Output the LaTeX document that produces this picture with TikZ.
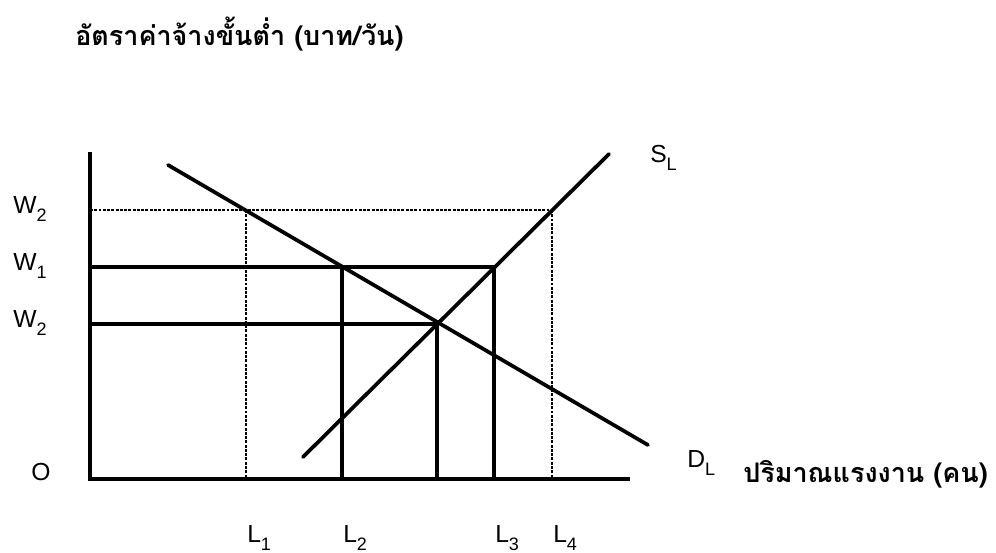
\documentclass[tikz,border=0pt]{standalone}
\usepackage{fontspec}
\setmainfont{Liberation Sans}
\newfontfamily\thaifont[Script=Thai]{Loma}
\newcommand\subs[1]{\raisebox{-6.5pt}{\fontsize{13.5}{13.5}\selectfont #1}}
\begin{document}
\begin{tikzpicture}[x=0.75pt,y=-0.75pt,
  axisline/.style={line width=2.4pt},
  curveline/.style={line width=2.8pt, line cap=round},
  guide/.style={line width=2.4pt},
  dotguide/.style={line width=2.2pt, densely dotted},
  lab/.style={font=\fontsize{18.5}{18.5}\selectfont, inner sep=0pt, anchor=base west},
  thailab/.style={font=\thaifont\bfseries\fontsize{20.2}{20.2}\selectfont, inner sep=0pt, anchor=base west}]
\useasboundingbox (0,0) rectangle (996,553);
% axes
\coordinate (O) at (90,479);
\coordinate (ytop) at (90,152);
\coordinate (xend) at (630,479);
% curves
\coordinate (dA) at (168,165);
\coordinate (dB) at (648,445);
\coordinate (sA) at (303,457);
\coordinate (sB) at (609,154);
% points
\coordinate (e1) at (246,210);
\coordinate (e2) at (342,267);
\coordinate (e3) at (437,324);
\coordinate (e4) at (494,267);
\coordinate (e5) at (552,210);
\coordinate (w2t) at (90,210);
\coordinate (w1) at (90,267);
\coordinate (w2b) at (90,324);
\coordinate (l1) at (246,479);
\coordinate (l2) at (342,479);
\coordinate (le) at (437,479);
\coordinate (l3) at (494,479);
\coordinate (l4) at (552,479);
% guides
\draw[dotguide] (w2t) -- (e5);
\draw[dotguide] (e1) -- (l1);
\draw[dotguide] (e5) -- (l4);
\draw[guide] (w1) -- (e4);
\draw[guide] (w2b) -- (e3);
\draw[guide] (e2) -- (l2);
\draw[guide] (e3) -- (le);
\draw[guide] (e4) -- (l3);
% axes
\draw[axisline] (ytop) -- (O) -- (xend);
% curves
\draw[curveline] (dA) -- (dB);
\draw[curveline] (sA) -- (sB);
% labels
\node[thailab] (ytitle) at (75,45) {อัตราค่าจ้างขั้นต่ำ (บาท/วัน)};
\node[thailab] (xtitle) at (743,482) {ปริมาณแรงงาน (คน)};
\node[lab] (lw2t) at (13,213) {W\subs{2}};
\node[lab] (lw1) at (13,270) {W\subs{1}};
\node[lab] (lw2b) at (13,327) {W\subs{2}};
\node[lab] (lO) at (31,480) {O};
\node[lab] (lL1) at (247,542) {L\subs{1}};
\node[lab] (lL2) at (343,542) {L\subs{2}};
\node[lab] (lL3) at (495,542) {L\subs{3}};
\node[lab] (lL4) at (553,542) {L\subs{4}};
\node[lab] (lS) at (650,162) {S\subs{L}};
\node[lab] (lD) at (687,467) {D\subs{L}};
\end{tikzpicture}
\end{document}
